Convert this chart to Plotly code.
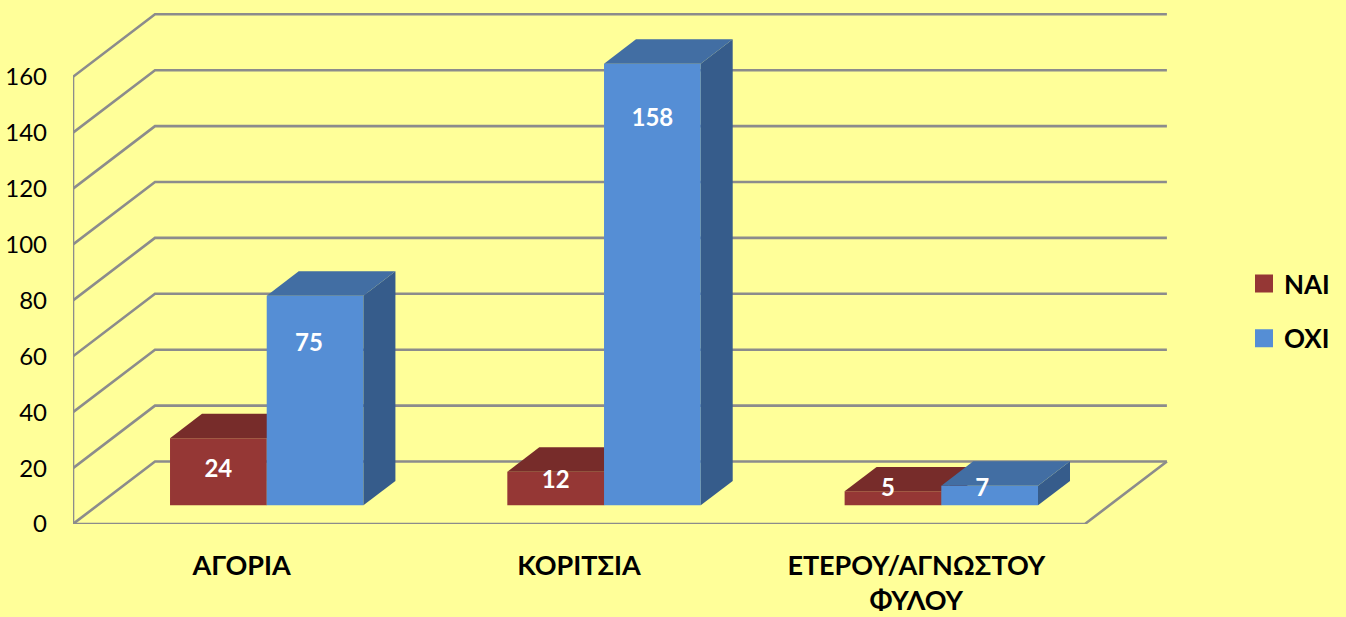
import plotly.graph_objects as go

# ---- data ----
categories = ["ΑΓΟΡΙΑ", "ΚΟΡΙΤΣΙΑ", "ΕΤΕΡΟΥ/ΑΓΝΩΣΤΟΥ<br>ΦΥΛΟΥ"]
nai_values = [24, 12, 5]
oxi_values = [75, 158, 7]
series_names = ["ΝΑΙ", "ΟΧΙ"]
tick_values = [0, 20, 40, 60, 80, 100, 120, 140, 160]

# ---- label anchors (value-axis height, horizontal nudge in category units) ----
nai_label_y = [18.9, 15.0, 12.1]
oxi_label_y = [63.9, 144.6, 12.1]
nai_label_dx = [0.0, 0.0, -0.015]
oxi_label_dx = [-0.018, 0.0, -0.022]

# ---- styling / projection ----
FONT = "Lato, 'Open Sans', sans-serif"
BG = "#FFFF99"
GRID = "#8C8C8C"
NAI_COL = ("#953735", "#772C2A", "#632523")
OXI_COL = ("#558ED5", "#426EA3", "#365C8B")

W, H = 1346, 617
PLOT_L, PLOT_R, PLOT_B = 73, 1168, 524
CAT_PX = 337.3
VAL_PX = 2.795
X_MAX = (PLOT_R - PLOT_L) / CAT_PX
Y_MAX = PLOT_B / VAL_PX
DX = 82 / CAT_PX
DY = 62.5 / VAL_PX
BAR_D0, BAR_D1 = 0.30, 0.69
BAR_W = 0.2867
BAR_OFF = 0.2147


def proj(c, v, d):
    return c + d * DX, v + d * DY


def poly(points):
    xs, ys = zip(*[proj(*p) for p in points])
    return list(xs), list(ys)


fig = go.Figure()

# ---- walls (base subplot) ----
def wall(xs, ys):
    fig.add_trace(go.Scatter(x=xs, y=ys, mode="lines", line=dict(color=GRID, width=2.6),
                             showlegend=False, hoverinfo="skip", cliponaxis=False))


n_cat = len(categories)
for t in tick_values:
    xs, ys = poly([(0, t, 0), (0, t, 1), (n_cat, t, 1)])
    wall(xs, ys)
xs, ys = poly([(0, 0, 0), (n_cat, 0, 0), (n_cat, 0, 1)])
wall(xs, ys)
wall([0, 0], [0, tick_values[-1]])


def add_series(values, offset, cols, xa, ya, name):
    for i, v in enumerate(values):
        c0 = i + offset
        c1 = c0 + BAR_W
        # side
        xs, ys = poly([(c1, 0, BAR_D0), (c1, 0, BAR_D1), (c1, v, BAR_D1), (c1, v, BAR_D0)])
        fig.add_trace(go.Scatter(x=xs, y=ys, fill="toself", fillcolor=cols[2], mode="lines",
                                 line=dict(width=0, color=cols[2]), xaxis=xa, yaxis=ya,
                                 showlegend=False, hoverinfo="skip"))
        # top
        xs, ys = poly([(c0, v, BAR_D0), (c0, v, BAR_D1), (c1, v, BAR_D1), (c1, v, BAR_D0)])
        fig.add_trace(go.Scatter(x=xs, y=ys, fill="toself", fillcolor=cols[1], mode="lines",
                                 line=dict(width=0, color=cols[1]), xaxis=xa, yaxis=ya,
                                 showlegend=False, hoverinfo="skip"))
    # front faces as real bars
    fig.add_trace(go.Bar(
        x=[proj(i + offset + BAR_W / 2, 0, BAR_D0)[0] for i in range(len(values))],
        y=values,
        base=[BAR_D0 * DY] * len(values),
        width=BAR_W,
        marker=dict(color=cols[0], line=dict(width=0)),
        xaxis=xa, yaxis=ya, name=name, showlegend=False,
    ))
    # legend swatch
    fig.add_trace(go.Scatter(x=[None], y=[None], mode="markers", name=name, legendgroup=name,
                             marker=dict(symbol="square", size=16, color=cols[0],
                                         line=dict(width=2, color=cols[0]))))


add_series(nai_values, BAR_OFF, NAI_COL, "x2", "y2", series_names[0])
add_series(oxi_values, BAR_OFF + BAR_W, OXI_COL, "x3", "y3", series_names[1])

# ---- value labels ----
lab_x, lab_y, lab_t = [], [], []
for i in range(n_cat):
    lab_x.append(proj(i + BAR_OFF + BAR_W / 2 + nai_label_dx[i], 0, BAR_D0)[0])
    lab_y.append(nai_label_y[i])
    lab_t.append(str(nai_values[i]))
    lab_x.append(proj(i + BAR_OFF + 1.5 * BAR_W + oxi_label_dx[i], 0, BAR_D0)[0])
    lab_y.append(oxi_label_y[i])
    lab_t.append(str(oxi_values[i]))
fig.add_trace(go.Scatter(x=lab_x, y=lab_y, text=lab_t, mode="text", xaxis="x3", yaxis="y3",
                         textfont=dict(family=FONT, size=24, color="white", weight="bold"),
                         showlegend=False, hoverinfo="skip"))

overlay_x = dict(range=[0, X_MAX], visible=False, overlaying="x", anchor="y", fixedrange=True)
overlay_y = dict(range=[0, Y_MAX], visible=False, overlaying="y", anchor="x", fixedrange=True)

fig.update_layout(
    width=W, height=H,
    autosize=False,
    margin=dict(l=PLOT_L, r=W - PLOT_R, t=0, b=H - PLOT_B, autoexpand=False),
    paper_bgcolor=BG, plot_bgcolor=BG,
    barmode="overlay",
    showlegend=True,
    font=dict(family=FONT, color="black"),
    xaxis=dict(range=[0, X_MAX], tickmode="array",
               tickvals=[i + 0.5 for i in range(n_cat)], ticktext=categories,
               showgrid=False, zeroline=False, showline=False, ticks="",
               ticklabelstandoff=23, automargin=False, fixedrange=True,
               tickfont=dict(family=FONT, size=27, color="black", weight="bold")),
    yaxis=dict(range=[0, Y_MAX], tickmode="array", tickvals=tick_values,
               showgrid=False, zeroline=False, showline=False, ticks="",
               ticklabelstandoff=25, automargin=False, fixedrange=True,
               tickfont=dict(family=FONT, size=24, color="black")),
    xaxis2=overlay_x, yaxis2={**overlay_y, "anchor": "x2"},
    xaxis3=overlay_x, yaxis3={**overlay_y, "anchor": "x3"},
    legend=dict(xref="container", yref="container", x=1244 / W, y=1 - 260 / H,
                xanchor="left", yanchor="top", tracegroupgap=18,
                bgcolor="rgba(0,0,0,0)", itemwidth=30,
                font=dict(family=FONT, size=26, color="black", weight="bold")),
)

fig.write_html("out.html", config=dict(displayModeBar=False),
               post_script="document.body.style.margin='0';document.body.style.overflow='hidden';document.body.style.background='#FFFF99';")
